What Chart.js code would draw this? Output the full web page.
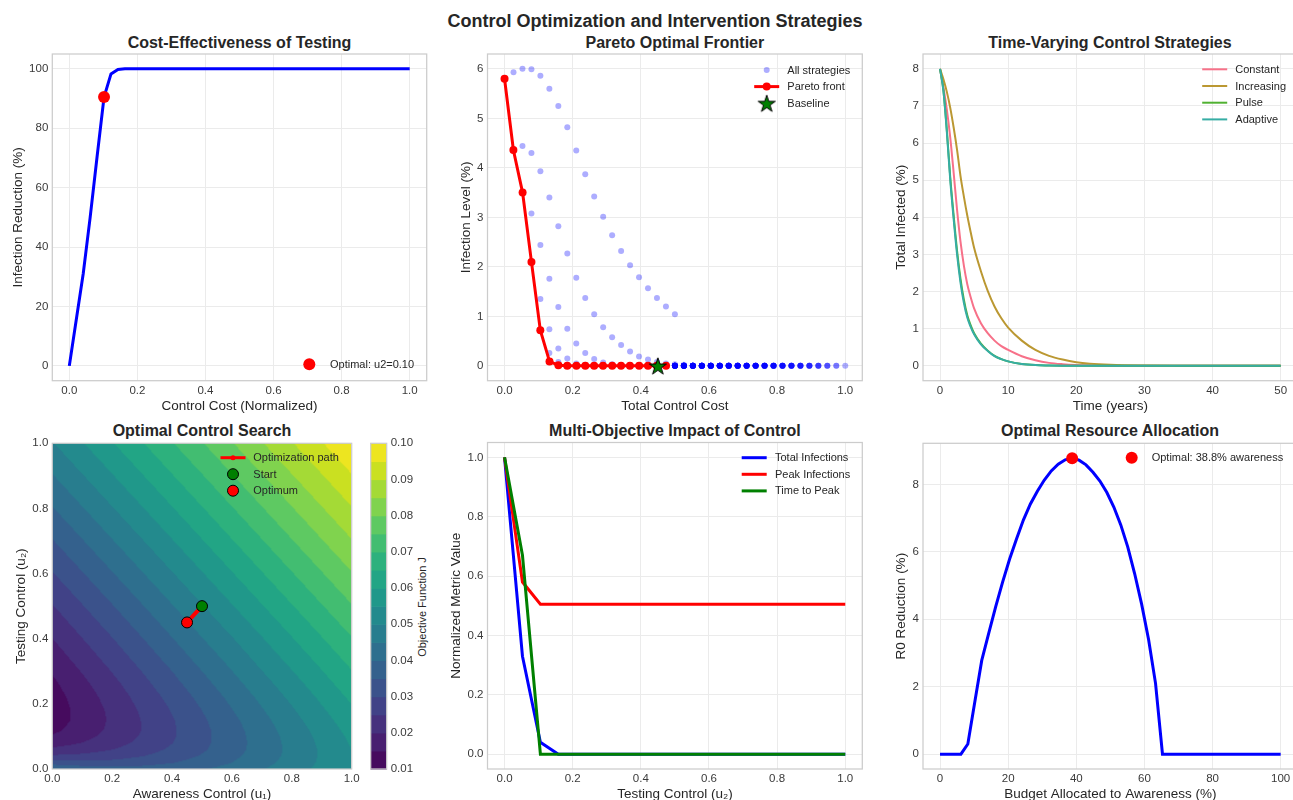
<!DOCTYPE html>
<html>
<head>
<meta charset="utf-8">
<title>Control Optimization and Intervention Strategies</title>
<script src="https://cdn.jsdelivr.net/npm/chart.js@4.4.1/dist/chart.umd.min.js"></script>
<style>
  html, body { margin: 0; padding: 0; background: #fff; }
  body { position: relative; width: 1293px; height: 800px; overflow: hidden;
         font-family: "Liberation Sans", Arial, Helvetica, sans-serif; color: #262626; }
  canvas { position: absolute; }
  .title { position: absolute; font-size: 16px; font-weight: bold; white-space: nowrap;
           line-height: 1; transform: translate(-50%, -50%); }
  .sup { font-size: 18px; }
  .cbar-label { position: absolute; font-size: 11px; white-space: nowrap; line-height: 1;
                transform: translate(-50%, -50%) rotate(-90deg); }
</style>
</head>
<body>
<div class="title sup" style="left:655px; top:20.5px">Control Optimization and Intervention Strategies</div>
<div class="title" style="left:239.5px; top:42.7px">Cost-Effectiveness of Testing</div>
<div class="title" style="left:674.9px; top:42.7px">Pareto Optimal Frontier</div>
<div class="title" style="left:1110px; top:42.7px">Time-Varying Control Strategies</div>
<div class="title" style="left:202px; top:431px">Optimal Control Search</div>
<div class="title" style="left:674.9px; top:431px">Multi-Objective Impact of Control</div>
<div class="title" style="left:1110px; top:431px">Optimal Resource Allocation</div>
<div class="cbar-label" style="left:421.7px; top:607px">Objective Function J</div>

<canvas id="c1"></canvas>
<canvas id="c2"></canvas>
<canvas id="c3"></canvas>
<canvas id="c4"></canvas>
<canvas id="cbar"></canvas>
<canvas id="c5"></canvas>
<canvas id="c6"></canvas>

<script>
// ---------------- data ----------------

// 1) cost-effectiveness: 50 testing levels between 0 and 1
const testCostLevels = Array.from({length: 50}, (_, i) => i / 49);
const infectionReduction = [
  0, 15.5, 31, 50, 70.5, 90.5, 98.3, 99.8, 100, 100,
  100, 100, 100, 100, 100, 100, 100, 100, 100, 100,
  100, 100, 100, 100, 100, 100, 100, 100, 100, 100,
  100, 100, 100, 100, 100, 100, 100, 100, 100, 100,
  100, 100, 100, 100, 100, 100, 100, 100, 100, 100
];
const optimalTesting = {u2: 0.102, reduction: 90.5};

// 2) pareto: 20 x 20 grid of (awareness, testing); total cost = (u1 + u2) / 2
const controlLevels = Array.from({length: 20}, (_, i) => i / 19);
// rows = testing level, columns = awareness level
const infectionByTesting = [
  [5.80, 5.93, 6.00, 5.99, 5.86, 5.60, 5.25, 4.82, 4.35, 3.87, 3.42, 3.01, 2.64, 2.32, 2.03, 1.79, 1.57, 1.37, 1.20, 1.04],
  [4.36, 4.44, 4.30, 3.93, 3.40, 2.82, 2.27, 1.78, 1.37, 1.04, 0.78, 0.58, 0.42, 0.29, 0.19, 0.13, 0.08, 0.05, 0.03, 0.02],
  [3.50, 3.08, 2.44, 1.76, 1.19, 0.75, 0.45, 0.26, 0.14, 0.07, 0.03, 0.01, 0, 0, 0, 0, 0, 0, 0, 0],
  [2.10, 1.35, 0.74, 0.35, 0.15, 0.05, 0.02, 0, 0, 0, 0, 0, 0, 0, 0, 0, 0, 0, 0, 0],
  [0.72, 0.26, 0.08, 0.02, 0, 0, 0, 0, 0, 0, 0, 0, 0, 0, 0, 0, 0, 0, 0, 0],
  [0.09, 0.02, 0, 0, 0, 0, 0, 0, 0, 0, 0, 0, 0, 0, 0, 0, 0, 0, 0, 0]
];
// testing rows 6..19 all sit on the zero line
while (infectionByTesting.length < 20) infectionByTesting.push(new Array(20).fill(0));

const paretoCost = [0, 0.026, 0.053, 0.079, 0.105, 0.132, 0.158, 0.184, 0.211, 0.237,
                    0.263, 0.289, 0.316, 0.342, 0.368, 0.395, 0.421, 0.447, 0.474];
const paretoInfection = [5.80, 4.36, 3.50, 2.10, 0.72, 0.09, 0.01, 0, 0, 0,
                         0, 0, 0, 0, 0, 0, 0, 0, 0];
const baseline = {cost: 0.45, infection: 0.0};

// 3) time-varying strategies
const years = [0, 0.5, 1, 1.5, 2, 2.5, 3, 3.5, 4, 4.5, 5, 6, 7, 8, 9, 10, 12, 14, 16, 18, 20, 22, 25, 30, 35, 40, 45, 50];
const constantI   = [8, 7.5, 6.9, 6.15, 5.2, 4.2, 3.35, 2.7, 2.2, 1.85, 1.55, 1.15, 0.88, 0.68, 0.53, 0.43, 0.26, 0.15, 0.08, 0.045, 0.025, 0.015, 0.006, 0.001, 0, 0, 0, 0];
const increasingI = [8, 7.72, 7.38, 6.95, 6.42, 5.82, 5.12, 4.56, 4.05, 3.6, 3.18, 2.55, 2.02, 1.6, 1.28, 1.03, 0.68, 0.43, 0.27, 0.17, 0.1, 0.06, 0.03, 0.01, 0.003, 0.001, 0, 0];
const pulseI      = [8, 7.42, 6.35, 5.08, 4.05, 3.1, 2.35, 1.78, 1.36, 1.09, 0.88, 0.6, 0.41, 0.27, 0.18, 0.12, 0.05, 0.02, 0.01, 0.004, 0.002, 0.001, 0, 0, 0, 0, 0, 0];
const adaptiveI   = [8, 7.4, 6.3, 5.0, 3.95, 3.0, 2.25, 1.7, 1.3, 1.05, 0.85, 0.58, 0.40, 0.26, 0.18, 0.12, 0.05, 0.02, 0.01, 0.004, 0.002, 0.001, 0, 0, 0, 0, 0, 0];

// 4) objective surface J(awareness, testing)
const awarenessLevels = [0, 0.1, 0.2, 0.3, 0.4, 0.5, 0.6, 0.7, 0.8, 0.9, 1.0];
const testingLevels = [0, 0.02, 0.04, 0.06, 0.08, 0.10, 0.12, 0.15, 0.18, 0.22, 0.26, 0.30, 0.40, 0.50, 0.60, 0.70, 0.80, 0.90, 1.00];
const objectiveJ = [
  [0.0408, 0.0383, 0.0371, 0.0371, 0.0380, 0.0396, 0.0419, 0.0447, 0.0478, 0.0513, 0.0551],
  [0.0321, 0.0313, 0.0316, 0.0328, 0.0347, 0.0371, 0.0400, 0.0433, 0.0469, 0.0508, 0.0548],
  [0.0257, 0.0263, 0.0277, 0.0298, 0.0324, 0.0354, 0.0388, 0.0425, 0.0464, 0.0506, 0.0549],
  [0.0210, 0.0226, 0.0249, 0.0277, 0.0308, 0.0343, 0.0381, 0.0421, 0.0463, 0.0507, 0.0551],
  [0.0177, 0.0201, 0.0230, 0.0263, 0.0299, 0.0338, 0.0378, 0.0421, 0.0465, 0.0510, 0.0555],
  [0.0154, 0.0184, 0.0218, 0.0255, 0.0294, 0.0336, 0.0379, 0.0423, 0.0468, 0.0514, 0.0561],
  [0.0138, 0.0173, 0.0211, 0.0251, 0.0293, 0.0337, 0.0381, 0.0427, 0.0473, 0.0520, 0.0568],
  [0.0126, 0.0166, 0.0208, 0.0252, 0.0296, 0.0342, 0.0388, 0.0435, 0.0483, 0.0531, 0.0579],
  [0.0123, 0.0167, 0.0211, 0.0257, 0.0303, 0.0350, 0.0398, 0.0446, 0.0494, 0.0543, 0.0592],
  [0.0128, 0.0174, 0.0221, 0.0269, 0.0316, 0.0365, 0.0413, 0.0462, 0.0511, 0.0560, 0.0610],
  [0.0139, 0.0187, 0.0235, 0.0284, 0.0333, 0.0382, 0.0431, 0.0480, 0.0529, 0.0579, 0.0629],
  [0.0154, 0.0203, 0.0252, 0.0301, 0.0350, 0.0400, 0.0449, 0.0499, 0.0548, 0.0598, 0.0648],
  [0.0199, 0.0249, 0.0298, 0.0348, 0.0398, 0.0448, 0.0497, 0.0547, 0.0597, 0.0647, 0.0697],
  [0.0247, 0.0297, 0.0347, 0.0397, 0.0447, 0.0497, 0.0547, 0.0597, 0.0647, 0.0697, 0.0747],
  [0.0297, 0.0347, 0.0397, 0.0447, 0.0497, 0.0547, 0.0597, 0.0647, 0.0697, 0.0747, 0.0797],
  [0.0347, 0.0397, 0.0447, 0.0497, 0.0547, 0.0597, 0.0647, 0.0697, 0.0747, 0.0797, 0.0847],
  [0.0397, 0.0447, 0.0497, 0.0547, 0.0597, 0.0647, 0.0697, 0.0747, 0.0797, 0.0847, 0.0897],
  [0.0447, 0.0497, 0.0547, 0.0597, 0.0647, 0.0697, 0.0747, 0.0797, 0.0847, 0.0897, 0.0947],
  [0.0497, 0.0547, 0.0597, 0.0647, 0.0697, 0.0747, 0.0797, 0.0847, 0.0897, 0.0947, 0.0997]
];
const levelsJ = [0.010, 0.015, 0.020, 0.025, 0.030, 0.035, 0.040, 0.045, 0.050, 0.055,
                 0.060, 0.065, 0.070, 0.075, 0.080, 0.085, 0.090, 0.095, 0.100];
const colorbarTicks = [0.01, 0.02, 0.03, 0.04, 0.05, 0.06, 0.07, 0.08, 0.09, 0.10];
const searchPath = [{x: 0.5, y: 0.5}, {x: 0.45, y: 0.45}];

// 5) multi-objective impact vs testing level (same 20 levels)
const totalInfections = [1.0, 0.33, 0.04, 0, 0, 0, 0, 0, 0, 0, 0, 0, 0, 0, 0, 0, 0, 0, 0, 0];
const peakInfections  = [1.0, 0.58, 0.505, 0.505, 0.505, 0.505, 0.505, 0.505, 0.505, 0.505,
                         0.505, 0.505, 0.505, 0.505, 0.505, 0.505, 0.505, 0.505, 0.505, 0.505];
const timeToPeak      = [1.0, 0.67, 0, 0, 0, 0, 0, 0, 0, 0, 0, 0, 0, 0, 0, 0, 0, 0, 0, 0];

// 6) budget split: 50 shares from 0 to 100 %
const budgetShares = Array.from({length: 50}, (_, i) => i * 100 / 49);
const r0Reduction = [
  0, 0, 0, 0, 0.3, 1.55, 2.78, 3.58, 4.37, 5.1,
  5.78, 6.38, 6.95, 7.42, 7.8, 8.13, 8.4, 8.6, 8.73, 8.78,
  8.72, 8.58, 8.36, 8.1, 7.76, 7.33, 6.8, 6.15, 5.35, 4.45,
  3.4, 2.1, 0, 0, 0, 0, 0, 0, 0, 0,
  0, 0, 0, 0, 0, 0, 0, 0, 0, 0
];
const optimalShare = {share: 38.78, reduction: 8.78};

// ---------------- style helpers ----------------
const FONT = '"Liberation Sans", Arial, Helvetica, sans-serif';
const GRID = '#ebebeb';
const SPINE = '#cccccc';
const TICK = '#3a3a3a';
const LABEL_SIZE = 13.5;
const LABEL_LH = LABEL_SIZE * 1.2;

Chart.defaults.font.family = FONT;
Chart.defaults.color = TICK;

const pts = (xs, ys) => xs.map((x, i) => ({x: x, y: ys[i]}));
const f1 = v => v.toFixed(1);
const f0 = v => String(Math.round(v));

// plot box edges and label centres in page pixels
const boxes = {
  c1: {left: 52.3, right: 426.7, top: 54, bottom: 380.7, ylabX: 17.7, xlabY: 405.7},
  c2: {left: 487.5, right: 862.3, top: 54, bottom: 380.7, ylabX: 466, xlabY: 405.7},
  c3: {left: 923, right: 1297.7, top: 54, bottom: 380.7, ylabX: 901, xlabY: 405.7},
  c4: {left: 52.3, right: 351.7, top: 443.3, bottom: 769, ylabX: 20.7, xlabY: 794},
  c5: {left: 487.5, right: 862.3, top: 442.5, bottom: 769, ylabX: 456, xlabY: 794},
  c6: {left: 923, right: 1297.7, top: 443.3, bottom: 769, ylabX: 901, xlabY: 794}
};

function place(id) {
  const b = boxes[id];
  const left = Math.round(b.ylabX - LABEL_LH / 2);
  const top = Math.round(b.top - 12);
  const width = Math.ceil(b.right + 12 - left);
  const height = Math.round(b.xlabY + LABEL_LH / 2 - top);
  const cv = document.getElementById(id);
  cv.width = width; cv.height = height;
  cv.style.left = left + 'px'; cv.style.top = top + 'px';
  return {
    canvas: cv,
    ySize: b.left - left,
    xSize: height - (b.bottom - top),
    padding: {left: 0, top: b.top - top, right: width - (b.right - left), bottom: 0}
  };
}

function axis(pos, size, min, max, ticks, fmt, title, showGrid) {
  const horiz = pos === 'bottom';
  return {
    type: 'linear', position: pos, min: min, max: max,
    grid: {display: showGrid !== false, color: GRID, lineWidth: 1, drawTicks: false},
    border: {display: false},
    title: {display: !!title, text: title, color: '#262626', padding: 0,
            font: {size: LABEL_SIZE, family: FONT}},
    ticks: {color: TICK, font: {size: 11.5, family: FONT}, padding: horiz ? 3 : 4,
            autoSkip: false, maxRotation: 0, callback: v => fmt(v)},
    afterBuildTicks: s => { s.ticks = ticks.map(v => ({value: v})); },
    afterFit: s => {
      if (horiz) s.height = size; else s.width = size;
      s.paddingLeft = s.paddingRight = s.paddingTop = s.paddingBottom = 0;
    }
  };
}

const frame = {
  id: 'frame',
  afterDatasetsDraw(chart) {
    const {ctx, chartArea: a} = chart;
    ctx.save();
    ctx.strokeStyle = SPINE; ctx.lineWidth = 1.25;
    ctx.strokeRect(a.left, a.top, a.right - a.left, a.bottom - a.top);
    ctx.restore();
  }
};

function drawSymbol(ctx, it, cx, cy) {
  ctx.save();
  if (it.line) {
    ctx.strokeStyle = it.color; ctx.lineWidth = it.line;
    ctx.beginPath(); ctx.moveTo(cx - 12.5, cy); ctx.lineTo(cx + 12.5, cy); ctx.stroke();
  }
  if (it.dot) {
    ctx.beginPath(); ctx.arc(cx, cy, it.dot, 0, Math.PI * 2);
    ctx.fillStyle = it.fill || it.color; ctx.fill();
    if (it.edge) { ctx.lineWidth = 1; ctx.strokeStyle = it.edge; ctx.stroke(); }
  }
  if (it.image) ctx.drawImage(it.image, cx - it.image.width / 2, cy - it.image.height / 2);
  ctx.restore();
}

function legend(cfg) {
  return {
    id: 'insideLegend',
    afterDatasetsDraw(chart) {
      const {ctx, chartArea: a} = chart;
      const cx = a.right - cfg.fromRight;
      let cy = cfg.fromBottom != null ? a.bottom - cfg.fromBottom : a.top + cfg.fromTop;
      ctx.save();
      ctx.font = '11px ' + FONT;
      ctx.textBaseline = 'middle';
      ctx.textAlign = 'left';
      cfg.items.forEach(it => {
        drawSymbol(ctx, it, cx, cy);
        ctx.fillStyle = '#262626';
        ctx.fillText(it.text, cx + cfg.gap, cy + 0.5);
        cy += cfg.row || 16.6;
      });
      ctx.restore();
    }
  };
}

function layered(datasets) {
  // chart.js paints the lowest "order" last, so give later datasets lower order
  datasets.forEach((d, i) => { d.order = datasets.length - i; });
  return datasets;
}

function baseOptions(p, scales) {
  return {
    responsive: false, animation: false, devicePixelRatio: 1,
    layout: {padding: p.padding},
    plugins: {legend: {display: false}, tooltip: {enabled: false}},
    elements: {point: {radius: 0}},
    scales: scales
  };
}

function makeStar(R) {
  const size = Math.ceil(R * 2 + 4);
  const c = document.createElement('canvas');
  c.width = c.height = size;
  const g = c.getContext('2d');
  g.translate(size / 2, size / 2 + R * 0.1);
  g.beginPath();
  for (let k = 0; k < 10; k++) {
    const r = k % 2 ? R * 0.382 : R;
    const a = -Math.PI / 2 + k * Math.PI / 5;
    g.lineTo(r * Math.cos(a), r * Math.sin(a));
  }
  g.closePath();
  g.fillStyle = '#008000'; g.fill();
  g.lineWidth = 1; g.strokeStyle = '#000'; g.stroke();
  return c;
}
const star = makeStar(9);

// viridis anchors
const VIRIDIS = ['#440154', '#48186a', '#472d7b', '#424086', '#3b528b', '#33638d', '#2c728e', '#26828e',
                 '#21918c', '#1fa088', '#28ae80', '#3fbc73', '#5ec962', '#84d44b', '#addc30', '#d8e219', '#fde725'];
function hexRgb(h) { return [1, 3, 5].map(i => parseInt(h.substr(i, 2), 16)); }
function viridis(t) {
  const s = Math.max(0, Math.min(1, t)) * (VIRIDIS.length - 1);
  const i = Math.min(Math.floor(s), VIRIDIS.length - 2), f = s - i;
  const a = hexRgb(VIRIDIS[i]), b = hexRgb(VIRIDIS[i + 1]);
  return a.map((v, k) => Math.round(v + (b[k] - v) * f));
}
const nBands = levelsJ.length - 1;
const bandRgb = Array.from({length: nBands}, (_, i) => viridis((i + 0.5) / nBands));

function cellIndex(levels, v) {
  let k = 0;
  while (k < levels.length - 2 && v > levels[k + 1]) k++;
  return k;
}
function sampleJ(u1, u2) {
  const i = cellIndex(awarenessLevels, u1), j = cellIndex(testingLevels, u2);
  const tx = (u1 - awarenessLevels[i]) / (awarenessLevels[i + 1] - awarenessLevels[i]);
  const ty = (u2 - testingLevels[j]) / (testingLevels[j + 1] - testingLevels[j]);
  const r0 = objectiveJ[j], r1 = objectiveJ[j + 1];
  return (r0[i] * (1 - tx) + r0[i + 1] * tx) * (1 - ty) + (r1[i] * (1 - tx) + r1[i + 1] * tx) * ty;
}
function bandOf(J) {
  let b = 0;
  while (b < nBands - 1 && J >= levelsJ[b + 1]) b++;
  return b;
}

const contourFill = {
  id: 'contourFill',
  beforeDatasetsDraw(chart) {
    const {ctx, chartArea: a, scales} = chart;
    const w = Math.round(a.right - a.left), h = Math.round(a.bottom - a.top);
    const off = document.createElement('canvas');
    off.width = w; off.height = h;
    const octx = off.getContext('2d');
    const img = octx.createImageData(w, h);
    const us = [], vs = [];
    for (let i = 0; i < w; i++) us.push(scales.x.getValueForPixel(a.left + i + 0.5));
    for (let j = 0; j < h; j++) vs.push(scales.y.getValueForPixel(a.top + j + 0.5));
    for (let j = 0; j < h; j++) {
      for (let i = 0; i < w; i++) {
        const c = bandRgb[bandOf(sampleJ(us[i], vs[j]))];
        const k = (j * w + i) * 4;
        img.data[k] = c[0]; img.data[k + 1] = c[1]; img.data[k + 2] = c[2]; img.data[k + 3] = 255;
      }
    }
    octx.putImageData(img, 0, 0);
    ctx.drawImage(off, a.left, a.top);
  }
};

const colorbarFill = {
  id: 'colorbarFill',
  beforeDatasetsDraw(chart) {
    const {ctx, chartArea: a, scales} = chart;
    ctx.save();
    for (let b = 0; b < nBands; b++) {
      const y0 = scales.y.getPixelForValue(levelsJ[b]);
      const y1 = scales.y.getPixelForValue(levelsJ[b + 1]);
      const c = bandRgb[b];
      ctx.fillStyle = 'rgb(' + c.join(',') + ')';
      ctx.fillRect(a.left, y1, a.right - a.left, y0 - y1 + 0.6);
    }
    ctx.restore();
  }
};

// ---------------- panel 1 ----------------
(function () {
  const p = place('c1');
  new Chart(p.canvas, {
    type: 'line',
    data: {datasets: layered([
      {data: pts(testCostLevels, infectionReduction), borderColor: '#0000ff', borderWidth: 3},
      {data: [{x: optimalTesting.u2, y: optimalTesting.reduction}], showLine: false,
       pointRadius: 6, pointBackgroundColor: '#ff0000', pointBorderWidth: 0}
    ])},
    options: baseOptions(p, {
      x: axis('bottom', p.xSize, -0.05, 1.05, [0, 0.2, 0.4, 0.6, 0.8, 1.0], f1, 'Control Cost (Normalized)'),
      y: axis('left', p.ySize, -5, 105, [0, 20, 40, 60, 80, 100], f0, 'Infection Reduction (%)')
    }),
    plugins: [frame, legend({fromRight: 117.4, fromBottom: 16.4, gap: 20.7,
      items: [{dot: 6, color: '#ff0000', text: 'Optimal: u2=0.10'}]})]
  });
})();

// ---------------- panel 2 ----------------
(function () {
  const p = place('c2');
  const cloud = [];
  infectionByTesting.forEach((row, j) => row.forEach((v, i) => {
    cloud.push({x: (controlLevels[i] + controlLevels[j]) / 2, y: v});
  }));
  new Chart(p.canvas, {
    type: 'scatter',
    data: {datasets: layered([
      {data: cloud, pointRadius: 3, pointBackgroundColor: 'rgba(0,0,255,0.32)', pointBorderWidth: 0},
      {data: pts(paretoCost, paretoInfection), showLine: true, borderColor: '#ff0000', borderWidth: 3,
       pointRadius: 4, pointBackgroundColor: '#ff0000', pointBorderWidth: 0},
      {data: [{x: baseline.cost, y: baseline.infection}], pointStyle: star, pointRadius: 9}
    ])},
    options: baseOptions(p, {
      x: axis('bottom', p.xSize, -0.05, 1.05, [0, 0.2, 0.4, 0.6, 0.8, 1.0], f1, 'Total Control Cost'),
      y: axis('left', p.ySize, -0.3, 6.3, [0, 1, 2, 3, 4, 5, 6], f0, 'Infection Level (%)')
    }),
    plugins: [frame, legend({fromRight: 95.6, fromTop: 16, gap: 20.6, row: 16.6, items: [
      {dot: 3, color: 'rgba(0,0,255,0.32)', text: 'All strategies'},
      {line: 3, dot: 4, color: '#ff0000', text: 'Pareto front'},
      {image: star, text: 'Baseline'}
    ]})]
  });
})();

// ---------------- panel 3 ----------------
(function () {
  const p = place('c3');
  const series = [
    ['Constant', constantI, '#f77189'],
    ['Increasing', increasingI, '#bb9832'],
    ['Pulse', pulseI, '#50b131'],
    ['Adaptive', adaptiveI, '#36ada4']
  ];
  new Chart(p.canvas, {
    type: 'line',
    data: {datasets: layered(series.map(s => ({
      label: s[0], data: pts(years, s[1]), borderColor: s[2], borderWidth: 2,
      cubicInterpolationMode: 'monotone'
    })))},
    options: baseOptions(p, {
      x: axis('bottom', p.xSize, -2.5, 52.5, [0, 10, 20, 30, 40, 50], f0, 'Time (years)'),
      y: axis('left', p.ySize, -0.4, 8.4, [0, 1, 2, 3, 4, 5, 6, 7, 8], f0, 'Total Infected (%)')
    }),
    plugins: [frame, legend({fromRight: 83, fromTop: 15.3, gap: 20.6, row: 16.7,
      items: series.map(s => ({line: 2, color: s[2], text: s[0]}))})]
  });
})();

// ---------------- panel 4 ----------------
(function () {
  const p = place('c4');
  new Chart(p.canvas, {
    type: 'scatter',
    data: {datasets: layered([
      {data: searchPath, showLine: true, borderColor: '#ff0000', borderWidth: 4,
       pointRadius: 3, pointBackgroundColor: '#ff0000', pointBorderWidth: 0},
      {data: [searchPath[0]], pointRadius: 5.5, pointBackgroundColor: '#008000',
       pointBorderColor: '#000000', pointBorderWidth: 1},
      {data: [searchPath[searchPath.length - 1]], pointRadius: 5.5, pointBackgroundColor: '#ff0000',
       pointBorderColor: '#000000', pointBorderWidth: 1}
    ])},
    options: baseOptions(p, {
      x: axis('bottom', p.xSize, 0, 1, [0, 0.2, 0.4, 0.6, 0.8, 1.0], f1, 'Awareness Control (u\u2081)', false),
      y: axis('left', p.ySize, 0, 1, [0, 0.2, 0.4, 0.6, 0.8, 1.0], f1, 'Testing Control (u\u2082)', false)
    }),
    plugins: [contourFill, frame, legend({fromRight: 118.7, fromTop: 14.4, gap: 20.3, row: 16.5, items: [
      {line: 3, dot: 2.5, color: '#ff0000', text: 'Optimization path'},
      {dot: 5.5, color: '#008000', edge: '#000000', text: 'Start'},
      {dot: 5.5, color: '#ff0000', edge: '#000000', text: 'Optimum'}
    ]})]
  });
})();

// ---------------- colorbar ----------------
(function () {
  const cv = document.getElementById('cbar');
  const left = 370, top = 431;
  cv.width = 56; cv.height = 351;
  cv.style.left = left + 'px'; cv.style.top = top + 'px';
  const padTop = 443.3 - top, padLeft = 370.7 - left;
  new Chart(cv, {
    type: 'scatter',
    data: {datasets: []},
    options: {
      responsive: false, animation: false, devicePixelRatio: 1,
      layout: {padding: {left: padLeft, top: padTop, right: 56 - padLeft - 16 - 34,
                         bottom: 351 - padTop - 325.7}},
      plugins: {legend: {display: false}, tooltip: {enabled: false}},
      scales: {
        x: {type: 'linear', display: false, min: 0, max: 1},
        y: {
          type: 'linear', position: 'right', min: 0.01, max: 0.10,
          grid: {display: false, drawTicks: false}, border: {display: false},
          ticks: {color: TICK, font: {size: 11.5, family: FONT}, padding: 4, autoSkip: false,
                  callback: v => v.toFixed(2)},
          afterBuildTicks: s => { s.ticks = colorbarTicks.map(v => ({value: v})); },
          afterFit: s => { s.width = 34; s.paddingTop = s.paddingBottom = 0; }
        }
      }
    },
    plugins: [colorbarFill, frame]
  });
})();

// ---------------- panel 5 ----------------
(function () {
  const p = place('c5');
  const series = [
    ['Total Infections', totalInfections, '#0000ff'],
    ['Peak Infections', peakInfections, '#ff0000'],
    ['Time to Peak', timeToPeak, '#008000']
  ];
  new Chart(p.canvas, {
    type: 'line',
    data: {datasets: layered(series.map(s => ({
      label: s[0], data: pts(controlLevels, s[1]), borderColor: s[2], borderWidth: 3
    })))},
    options: baseOptions(p, {
      x: axis('bottom', p.xSize, -0.05, 1.05, [0, 0.2, 0.4, 0.6, 0.8, 1.0], f1, 'Testing Control (u\u2082)'),
      y: axis('left', p.ySize, -0.05, 1.05, [0, 0.2, 0.4, 0.6, 0.8, 1.0], f1, 'Normalized Metric Value')
    }),
    plugins: [frame, legend({fromRight: 108.1, fromTop: 15.2, gap: 20.8, row: 16.6,
      items: series.map(s => ({line: 3, color: s[2], text: s[0]}))})]
  });
})();

// ---------------- panel 6 ----------------
(function () {
  const p = place('c6');
  new Chart(p.canvas, {
    type: 'line',
    data: {datasets: layered([
      {data: pts(budgetShares, r0Reduction), borderColor: '#0000ff', borderWidth: 3},
      {data: [{x: optimalShare.share, y: optimalShare.reduction}], showLine: false,
       pointRadius: 6, pointBackgroundColor: '#ff0000', pointBorderWidth: 0}
    ])},
    options: baseOptions(p, {
      x: axis('bottom', p.xSize, -5, 105, [0, 20, 40, 60, 80, 100], f0, 'Budget Allocated to Awareness (%)'),
      y: axis('left', p.ySize, -0.44, 9.22, [0, 2, 4, 6, 8], f0, 'R0 Reduction (%)')
    }),
    plugins: [frame, legend({fromRight: 166, fromTop: 14.4, gap: 20,
      items: [{dot: 6, color: '#ff0000', text: 'Optimal: 38.8% awareness'}]})]
  });
})();
</script>
</body>
</html>
